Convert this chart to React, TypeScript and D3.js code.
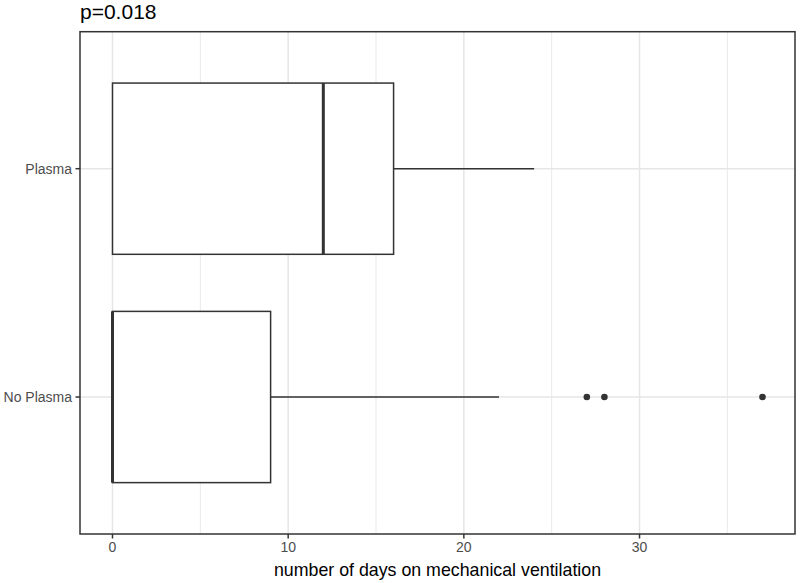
import React from "react";
import * as d3 from "d3";

const categories = ["Plasma", "No Plasma"];
const whiskerLow = [0, 0];
const q1 = [0, 0];
const median = [12, 0];
const q3 = [16, 9];
const whiskerHigh = [24, 22];
const outliers: number[][] = [[], [27, 28, 37]];
const xTicks = [0, 10, 20, 30];
const xMinor = [5, 15, 25, 35];
const title = "p=0.018";
const xTitle = "number of days on mechanical ventilation";

const W = 800;
const H = 583;
const panel = { left: 80, right: 795, top: 31.7, bottom: 534 };
const FONT = "'Liberation Sans', Arial, sans-serif";

export default function App() {
  const allVals = [...whiskerLow, ...whiskerHigh, ...outliers.flat()];
  const lo = d3.min(allVals) as number;
  const hi = d3.max(allVals) as number;
  const pad = (hi - lo) * 0.05;
  const x = d3.scaleLinear().domain([lo - pad, hi + pad]).range([panel.left, panel.right]);
  const y = d3.scaleLinear().domain([0.4, 2.6]).range([panel.bottom, panel.top]);
  const level = (i: number) => categories.length - i;
  const unit = Math.abs(y(1) - y(2));
  const boxH = unit * 0.75;
  const stroke = "#333333";
  const grid = "#e6e6e6";

  return (
    <svg
      width={W}
      height={H}
      style={{ position: "fixed", left: 0, top: 0, background: "#fff" }}
      fontFamily={FONT}
    >
      <rect x={0} y={0} width={W} height={H} fill="#fff" />
      {xMinor.map((t) => (
        <line key={"mn" + t} x1={x(t)} x2={x(t)} y1={panel.top} y2={panel.bottom} stroke={grid} strokeWidth={0.9} />
      ))}
      {xTicks.map((t) => (
        <line key={"mj" + t} x1={x(t)} x2={x(t)} y1={panel.top} y2={panel.bottom} stroke={grid} strokeWidth={1.5} />
      ))}
      {categories.map((c, i) => (
        <line key={"gy" + c} x1={panel.left} x2={panel.right} y1={y(level(i))} y2={y(level(i))} stroke={grid} strokeWidth={1.5} />
      ))}
      {categories.map((c, i) => {
        const cy = y(level(i));
        return (
          <g key={"box" + c}>
            <line x1={x(whiskerLow[i])} x2={x(q1[i])} y1={cy} y2={cy} stroke={stroke} strokeWidth={1.5} />
            <line x1={x(q3[i])} x2={x(whiskerHigh[i])} y1={cy} y2={cy} stroke={stroke} strokeWidth={1.5} />
            <rect
              x={x(q1[i])}
              y={cy - boxH / 2}
              width={x(q3[i]) - x(q1[i])}
              height={boxH}
              fill="#fff"
              stroke={stroke}
              strokeWidth={1.5}
            />
            <line x1={x(median[i])} x2={x(median[i])} y1={cy - boxH / 2} y2={cy + boxH / 2} stroke={stroke} strokeWidth={3} />
            {outliers[i].map((o, j) => (
              <circle key={j} cx={x(o)} cy={cy} r={3.3} fill={stroke} />
            ))}
          </g>
        );
      })}
      <rect
        x={panel.left}
        y={panel.top}
        width={panel.right - panel.left}
        height={panel.bottom - panel.top}
        fill="none"
        stroke={stroke}
        strokeWidth={1.5}
      />
      {xTicks.map((t) => (
        <g key={"xt" + t}>
          <line x1={x(t)} x2={x(t)} y1={panel.bottom} y2={panel.bottom + 4.5} stroke={stroke} strokeWidth={1.5} />
          <text x={x(t)} y={552} textAnchor="middle" fontSize={14} fill="#4d4d4d">
            {t}
          </text>
        </g>
      ))}
      {categories.map((c, i) => {
        const cy = y(level(i));
        return (
          <g key={"yt" + c}>
            <line x1={panel.left - 4.5} x2={panel.left} y1={cy} y2={cy} stroke={stroke} strokeWidth={1.5} />
            <text x={72} y={cy + 5} textAnchor="end" fontSize={14} fill="#4d4d4d">
              {c}
            </text>
          </g>
        );
      })}
      <text x={(panel.left + panel.right) / 2} y={576} textAnchor="middle" fontSize={17.8} fill="#000">
        {xTitle}
      </text>
      <text x={80} y={18.5} fontSize={21} fill="#000">
        {title}
      </text>
    </svg>
  );
}
